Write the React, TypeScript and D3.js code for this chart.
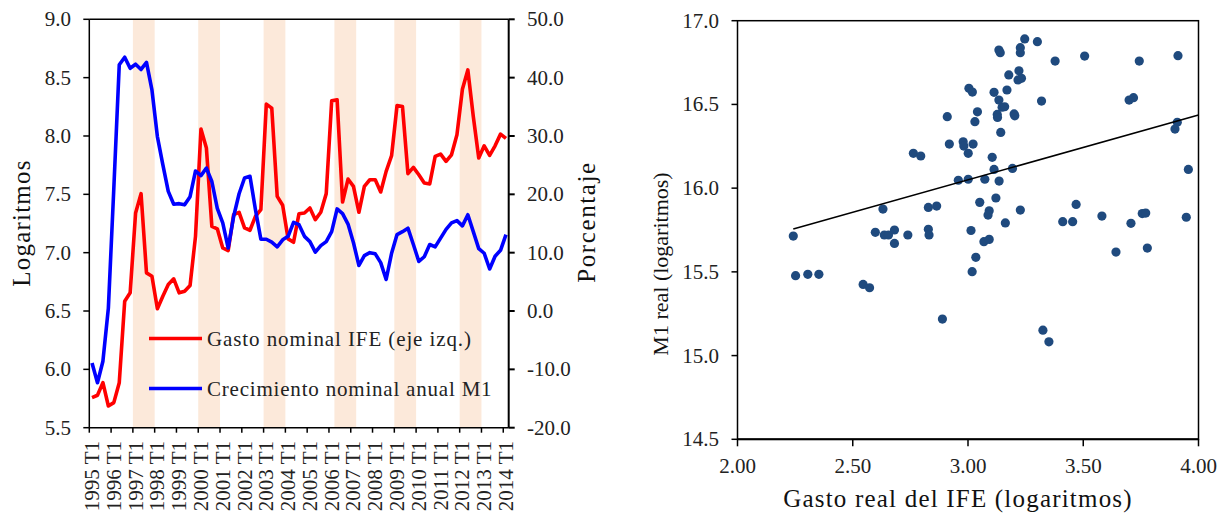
import React from 'react';
import * as d3 from 'd3';

// ---------- Left chart data ----------
const years = [1995, 1996, 1997, 1998, 1999, 2000, 2001, 2002, 2003, 2004, 2005, 2006, 2007, 2008, 2009, 2010, 2011, 2012, 2013, 2014];
const quarterNames = ['T1', 'T2', 'T3', 'T4'];
// 77 quarters: 1995 T1 .. 2014 T1
const quarters: string[] = years.flatMap((y) => quarterNames.map((q) => `${y} ${q}`)).slice(0, 77);
const yearTickLabels = years.map((y) => `${y} T1`);

// Gasto nominal IFE (logaritmos, eje izq.)
const gastoNominal = [
  5.758, 5.778, 5.886, 5.686, 5.715, 5.886, 6.584, 6.656, 7.340, 7.506,
  6.827, 6.798, 6.519, 6.627, 6.727, 6.776, 6.656, 6.670, 6.719, 7.140,
  8.059, 7.897, 7.226, 7.204, 7.041, 7.018, 7.326, 7.346, 7.212, 7.192,
  7.311, 7.369, 8.273, 8.239, 7.483, 7.406, 7.118, 7.089, 7.334, 7.340,
  7.383, 7.283, 7.346, 7.506, 8.301, 8.310, 7.434, 7.631, 7.568, 7.346,
  7.568, 7.625, 7.625, 7.520, 7.697, 7.831, 8.261, 8.252, 7.677, 7.731,
  7.668, 7.597, 7.589, 7.825, 7.845, 7.782, 7.839, 8.010, 8.401, 8.566,
  8.167, 7.811, 7.916, 7.833, 7.916, 8.016, 7.979,
];

// Crecimiento nominal anual M1 (porcentaje, eje der.)
const crecimientoM1 = [
  -8.9, -12.3, -8.6, 0.5, 21.0, 42.2, 43.5, 41.6, 42.3, 41.4,
  42.6, 37.9, 29.9, 25.1, 20.5, 18.3, 18.4, 18.2, 19.6, 24.0,
  23.2, 24.5, 22.2, 17.6, 15.1, 10.8, 16.2, 20.1, 22.8, 23.1,
  17.4, 12.3, 12.3, 11.8, 11.0, 12.2, 12.8, 15.2, 14.8, 12.8,
  11.9, 10.1, 11.2, 11.9, 13.6, 17.5, 16.7, 14.9, 11.7, 7.8,
  9.5, 10.0, 9.8, 8.3, 5.4, 9.9, 13.1, 13.6, 14.2, 11.4,
  8.5, 9.3, 11.4, 11.0, 12.5, 14.0, 15.1, 15.5, 14.6, 16.5,
  13.6, 10.7, 9.9, 7.2, 9.4, 10.4, 13.1,
];

// Election periods (shaded), as first quarter index, 4 quarters wide
const bandStart = [8, 20, 32, 45, 56, 68];
const bandLength = 4;

const leftTicks = [5.5, 6.0, 6.5, 7.0, 7.5, 8.0, 8.5, 9.0];
const rightTicks = [-20, -10, 0, 10, 20, 30, 40, 50];

// ---------- Right chart data ----------
const gastoReal = [
  2.242, 2.252, 2.305, 2.353, 2.545, 2.573, 2.598, 2.637, 2.655, 2.681,
  2.681, 2.739, 2.631, 2.828, 2.864, 2.828, 2.831, 2.763, 2.795, 2.910,
  2.919, 2.979, 2.982, 3.022, 3.001, 2.958, 3.001, 3.073, 3.135, 3.004,
  3.019, 3.041, 3.030, 3.051, 3.121, 3.092, 3.087, 3.162, 3.227, 3.013,
  3.069, 3.092, 3.034, 3.018, 2.889, 3.246, 3.301, 3.134, 3.140, 3.227,
  3.227, 3.378, 3.506, 3.743, 3.911, 3.177, 3.221, 3.217, 3.232, 3.113,
  3.169, 3.134, 3.148, 3.159, 3.127, 3.128, 3.200, 3.203, 3.319, 3.142,
  3.699, 3.718, 3.908, 3.898, 3.105, 3.113, 3.193, 3.956, 3.411, 3.454,
  3.469, 3.581, 3.707, 3.756, 3.771, 3.947, 3.642, 3.778, 3.325, 3.351,
];
const m1Real = [
  15.714, 15.477, 15.485, 15.485, 15.425, 15.405, 15.736, 15.720, 15.720, 15.750,
  15.670, 15.720, 15.875, 15.885, 15.893, 15.754, 15.720, 16.208, 16.192, 16.427,
  16.263, 16.277, 16.251, 16.263, 16.208, 16.047, 16.053, 16.053, 16.042, 16.596,
  16.574, 16.456, 16.397, 15.915, 15.941, 15.865, 15.839, 15.792, 15.869, 15.747,
  15.680, 15.694, 15.587, 15.501, 15.218, 16.891, 16.875, 16.825, 16.809, 16.839,
  16.809, 16.759, 16.789, 16.759, 16.791, 16.676, 16.701, 16.646, 16.656, 16.572,
  16.586, 16.526, 16.483, 16.486, 16.440, 16.422, 16.443, 16.432, 16.520, 16.333,
  16.526, 16.540, 16.393, 16.353, 16.184, 16.112, 16.118, 16.112, 15.800, 15.800,
  15.903, 15.833, 15.790, 15.848, 15.851, 15.826, 15.618, 15.642, 15.152, 15.082,
];
const trendX = [2.242, 4.0];
const trendY = [15.756, 16.437];

const xTicksR = [2.0, 2.5, 3.0, 3.5, 4.0];
const yTicksR = [14.5, 15.0, 15.5, 16.0, 16.5, 17.0];

const FONT = "'Liberation Serif', 'Times New Roman', serif";

export default function App() {
  // Left chart geometry
  const L = { x0: 89.3, x1: 508.7, y0: 19.3, y1: 427.7 };
  const xq = d3.scaleLinear().domain([0, quarters.length]).range([L.x0, L.x1]);
  const yLog = d3.scaleLinear().domain([5.5, 9.0]).range([L.y1, L.y0]);
  const yPct = d3.scaleLinear().domain([-20, 50]).range([L.y1, L.y0]);

  const redLine = d3
    .line<number>()
    .x((_, i) => xq(i + 0.5))
    .y((d) => yLog(d))(gastoNominal) as string;
  const blueLine = d3
    .line<number>()
    .x((_, i) => xq(i + 0.5))
    .y((d) => yPct(d))(crecimientoM1) as string;

  // Right chart geometry
  const R = { x0: 737.5, x1: 1198.5, y0: 20.7, y1: 439.3 };
  const xr = d3.scaleLinear().domain([2.0, 4.0]).range([R.x0, R.x1]);
  const yr = d3.scaleLinear().domain([14.5, 17.0]).range([R.y1, R.y0]);

  const axisStroke = { stroke: '#000', strokeWidth: 1.5, fill: 'none' };

  return (
    <svg
      width={1225}
      height={516}
      style={{ position: 'absolute', left: 0, top: 0, background: '#fff' }}
      fontFamily={FONT}
    >
      <rect x={0} y={0} width={1225} height={516} fill="#fff" />

      {/* ---------- LEFT CHART ---------- */}
      {bandStart.map((b) => (
        <rect
          key={b}
          x={xq(b)}
          y={L.y0}
          width={xq(b + bandLength) - xq(b)}
          height={L.y1 - L.y0}
          fill="#FCE9DA"
        />
      ))}

      <path d={redLine} fill="none" stroke="#FF0000" strokeWidth={3.6} strokeLinejoin="round" />
      <path d={blueLine} fill="none" stroke="#0000FF" strokeWidth={3.6} strokeLinejoin="round" />

      {/* frame */}
      <line x1={L.x0} x2={L.x1} y1={L.y0} y2={L.y0} {...axisStroke} />
      <line x1={L.x0} x2={L.x1} y1={L.y1} y2={L.y1} {...axisStroke} />
      <line x1={L.x0} x2={L.x0} y1={L.y0} y2={L.y1} {...axisStroke} />
      <line x1={L.x1} x2={L.x1} y1={L.y0} y2={L.y1} {...axisStroke} strokeWidth={2} />

      {leftTicks.map((t) => (
        <g key={'lt' + t}>
          <line x1={L.x0 - 6} x2={L.x0} y1={yLog(t)} y2={yLog(t)} {...axisStroke} />
          <text x={71} y={yLog(t)} dominantBaseline="central" textAnchor="end" fontSize={21} fill="#222">
            {t.toFixed(1)}
          </text>
        </g>
      ))}
      {rightTicks.map((t) => (
        <g key={'rt' + t}>
          <line x1={L.x1} x2={L.x1 + 6} y1={yPct(t)} y2={yPct(t)} {...axisStroke} strokeWidth={2} />
          <text x={527} y={yPct(t)} dominantBaseline="central" textAnchor="start" fontSize={21} fill="#222">
            {t.toFixed(1)}
          </text>
        </g>
      ))}
      {yearTickLabels.map((lab, k) => (
        <g key={lab}>
          <line x1={xq(4 * k)} x2={xq(4 * k)} y1={L.y1} y2={L.y1 + 5} {...axisStroke} />
          <text
            transform={`translate(${xq(4 * k + 0.5)},441) rotate(-90)`}
            textAnchor="end"
            dominantBaseline="central"
            fontSize={21}
            fill="#222"
          >
            {lab}
          </text>
        </g>
      ))}

      <text
        transform={`translate(21,223) rotate(-90)`}
        textAnchor="middle"
        dominantBaseline="central"
        fontSize={25}
        letterSpacing={1.2}
        fill="#111"
      >
        Logaritmos
      </text>
      <text
        transform={`translate(586,222) rotate(-90)`}
        textAnchor="middle"
        dominantBaseline="central"
        fontSize={25}
        letterSpacing={1.6}
        fill="#111"
      >
        Porcentaje
      </text>

      {/* legend */}
      <line x1={149} x2={202} y1={338.5} y2={338.5} stroke="#FF0000" strokeWidth={3.6} />
      <text x={207} y={339} dominantBaseline="central" fontSize={21} letterSpacing={0.9} fill="#222">
        Gasto nominal IFE (eje izq.)
      </text>
      <line x1={149} x2={202} y1={388.5} y2={388.5} stroke="#0000FF" strokeWidth={3.6} />
      <text x={207} y={389} dominantBaseline="central" fontSize={21} letterSpacing={0.8} fill="#222">
        Crecimiento nominal anual M1
      </text>

      {/* ---------- RIGHT CHART ---------- */}
      <rect x={R.x0} y={R.y0} width={R.x1 - R.x0} height={R.y1 - R.y0} fill="none" stroke="#000" strokeWidth={1.5} />
      <line x1={R.x0} x2={R.x1} y1={R.y1} y2={R.y1} stroke="#000" strokeWidth={2} />

      {xTicksR.map((t) => (
        <g key={'xr' + t}>
          <line x1={xr(t)} x2={xr(t)} y1={R.y1} y2={R.y1 + 7} {...axisStroke} />
          <text x={xr(t)} y={466} textAnchor="middle" dominantBaseline="central" fontSize={21} fill="#222">
            {t.toFixed(2)}
          </text>
        </g>
      ))}
      {yTicksR.map((t) => (
        <g key={'yr' + t}>
          <line x1={R.x0 - 6} x2={R.x0} y1={yr(t)} y2={yr(t)} {...axisStroke} />
          <text x={719} y={yr(t)} textAnchor="end" dominantBaseline="central" fontSize={21} fill="#222">
            {t.toFixed(1)}
          </text>
        </g>
      ))}

      {gastoReal.map((gx, i) => (
        <circle key={i} cx={xr(gx)} cy={yr(m1Real[i])} r={4.6} fill="#1F4A7E" />
      ))}

      <line
        x1={xr(trendX[0])}
        y1={yr(trendY[0])}
        x2={xr(trendX[1])}
        y2={yr(trendY[1])}
        stroke="#000"
        strokeWidth={1.6}
      />

      <text
        transform={`translate(660,264) rotate(-90)`}
        textAnchor="middle"
        dominantBaseline="central"
        fontSize={22}
        fill="#111"
      >
        M1 real (logaritmos)
      </text>
      <text x={958} y={498} textAnchor="middle" dominantBaseline="central" fontSize={25} letterSpacing={1.2} fill="#111">
        Gasto real del IFE (logaritmos)
      </text>
    </svg>
  );
}
